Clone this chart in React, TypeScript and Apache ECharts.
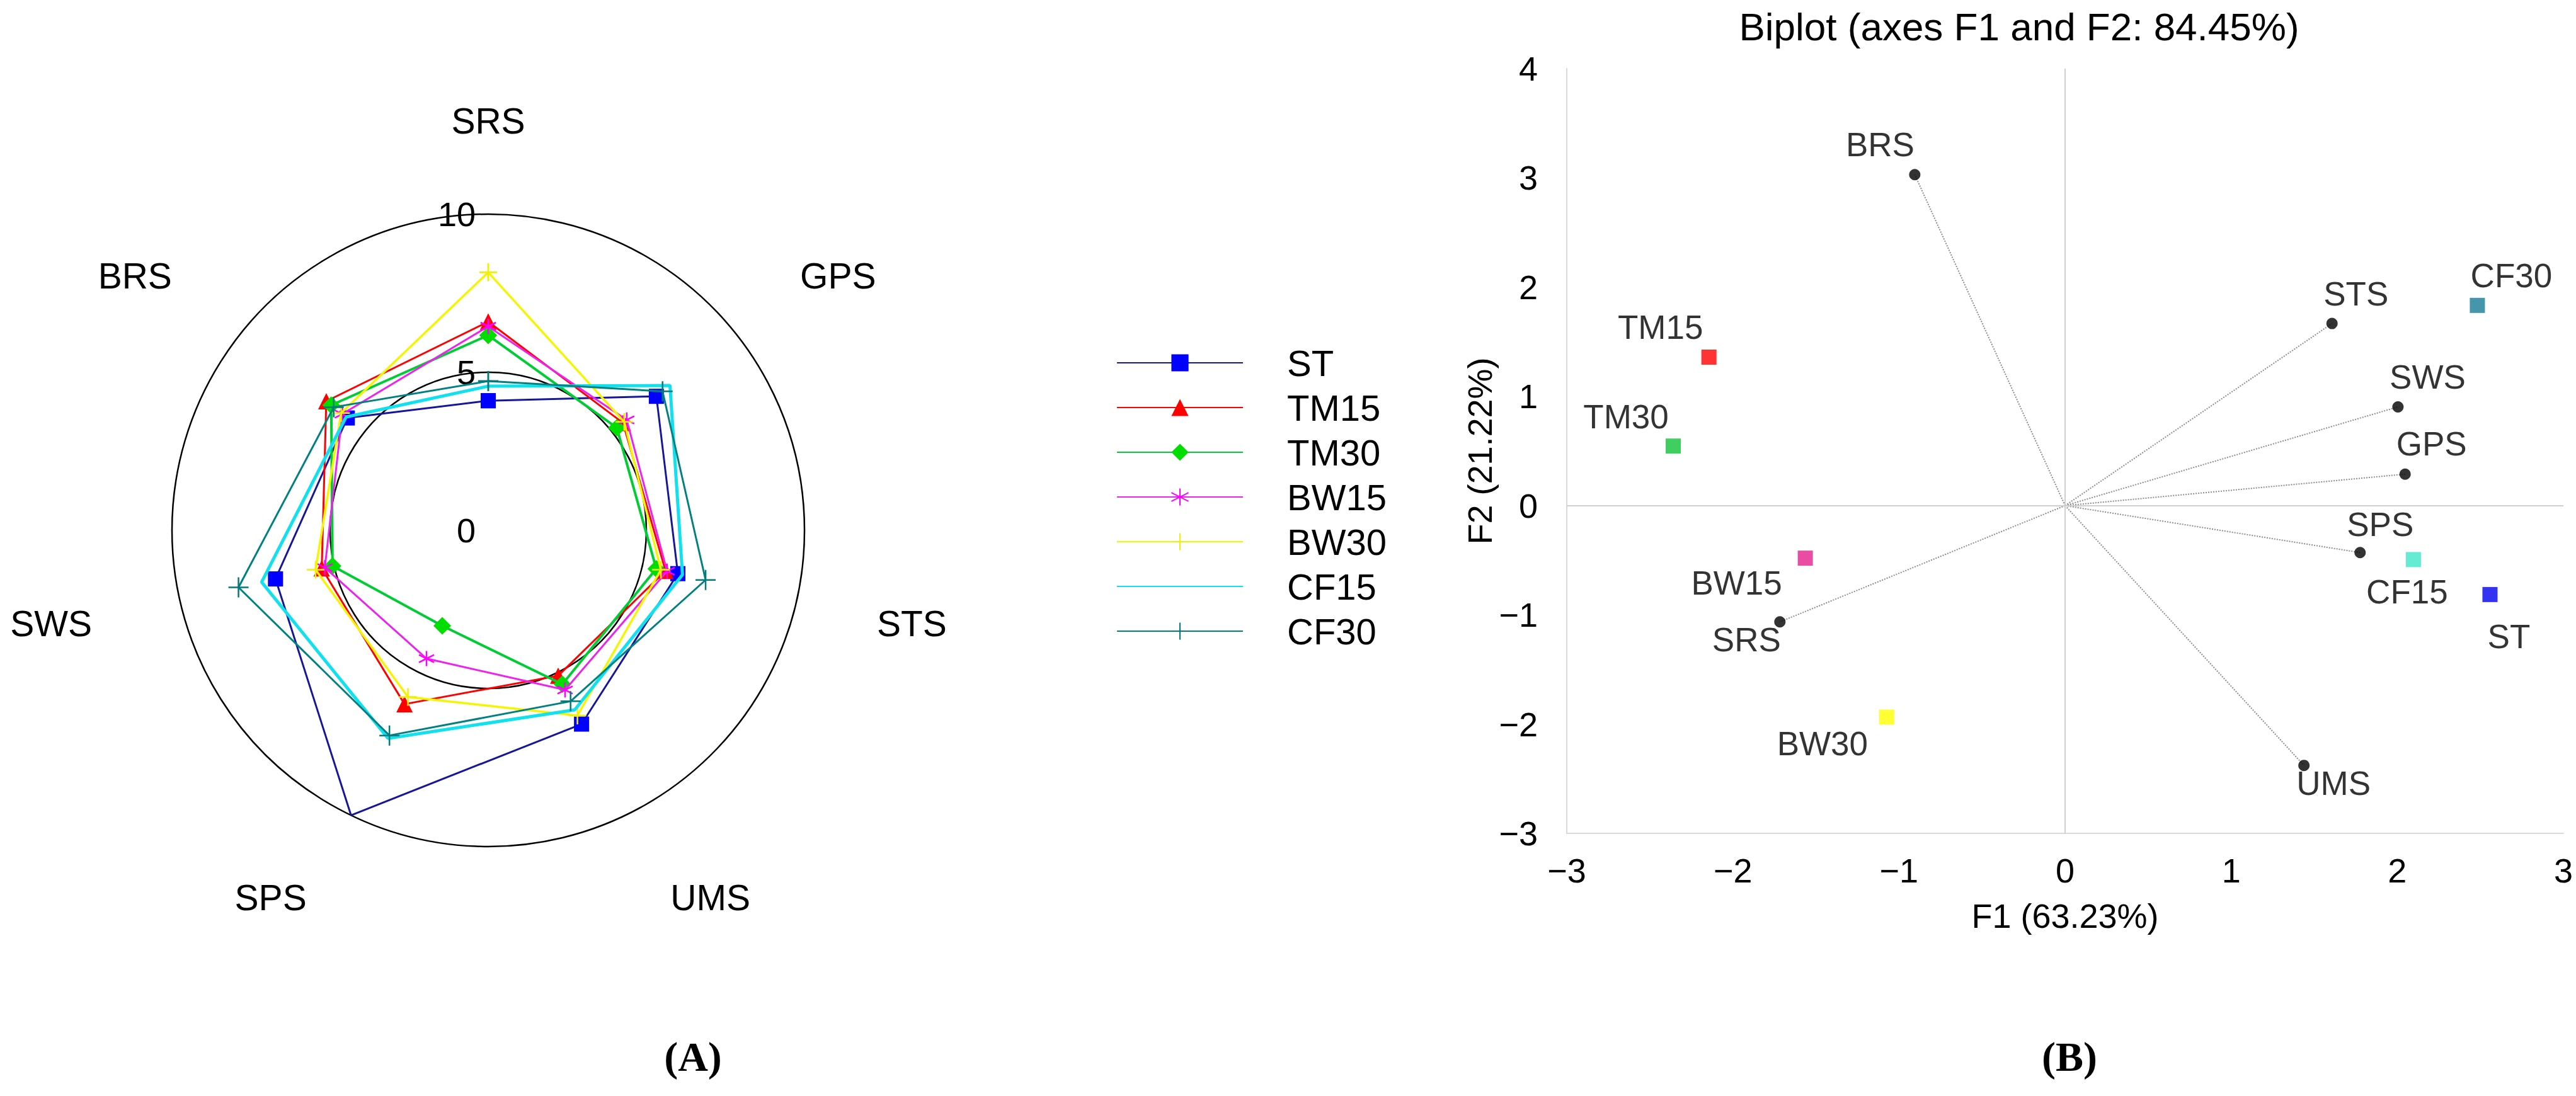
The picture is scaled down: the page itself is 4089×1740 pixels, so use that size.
import React, { useEffect, useRef } from 'react';
import * as echarts from 'echarts';

// ---------- Radar (A) data ----------
const RADAR_AXES = ['SRS', 'GPS', 'STS', 'UMS', 'SPS', 'SWS', 'BRS'];
const RADAR_MAX = 10;
const RADAR_STEP = 5;
const SERIES_NAMES = ['ST', 'TM15', 'TM30', 'BW15', 'BW30', 'CF15', 'CF30'];
const ST = [4.1, 6.8, 6.15, 6.8, 10.0, 6.9, 5.7];
const TM15 = [6.6, 5.45, 5.75, 5.1, 6.1, 5.4, 6.55];
const TM30 = [6.17, 5.2, 5.45, 5.4, 3.35, 5.05, 6.35];
const BW15 = [6.45, 5.6, 5.8, 5.6, 4.5, 5.3, 5.9];
const BW30 = [8.16, 5.5, 5.6, 6.5, 5.85, 5.6, 5.95];
const CF15 = [4.56, 7.35, 6.3, 6.3, 7.3, 7.35, 5.75];
const CF30 = [4.72, 7.05, 7.05, 6.0, 7.2, 8.1, 6.25];
const RADAR_VALUES = [ST, TM15, TM30, BW15, BW30, CF15, CF30];

// ---------- Biplot (B) data ----------
const VARIABLES = ['BRS', 'STS', 'SWS', 'GPS', 'SPS', 'UMS', 'SRS'];
const VAR_F1 = [-0.905, 1.607, 2.004, 2.047, 1.776, 1.438, -1.717];
const VAR_F2 = [3.03, 1.667, 0.904, 0.288, -0.43, -2.378, -1.064];
const OBSERVATIONS = ['ST', 'TM15', 'TM30', 'BW15', 'BW30', 'CF15', 'CF30'];
const OBS_F1 = [2.558, -2.144, -2.359, -1.564, -1.074, 2.097, 2.482];
const OBS_F2 = [-0.814, 1.359, 0.545, -0.481, -1.936, -0.494, 1.833];
const F1_RANGE = [-3, 3];
const F2_RANGE = [-3, 4];
const TITLE_B = 'Biplot (axes F1 and F2: 84.45%)';
const F1_NAME = 'F1 (63.23%)';
const F2_NAME = 'F2 (21.22%)';

// ---------- Styles ----------
const FONT = 'Liberation Sans, Arial, Helvetica, sans-serif';
const ASTERISK = 'path://M5,0L5,10M0.67,2.5L9.33,7.5M0.67,7.5L9.33,2.5';
const PLUS = 'path://M5,0L5,10M0,5L10,5';

const RADAR_STYLES: any[] = [
  { line: '#16169a', mark: '#0000ff', symbol: 'rect', size: 24, width: 3, stroke: 0 },
  { line: '#ff0000', mark: '#ff0000', symbol: 'triangle', size: 26, width: 3, stroke: 0 },
  { line: '#00cc33', mark: '#00dd00', symbol: 'diamond', size: 28, width: 4, stroke: 0 },
  { line: '#ee22ee', mark: '#ff00ff', symbol: ASTERISK, size: 24, width: 3, stroke: 2.5 },
  { line: '#f5f500', mark: '#f0f000', symbol: PLUS, size: 28, width: 3.5, stroke: 2.5 },
  { line: '#11e0ee', mark: '#11e0ee', symbol: 'none', size: 0, width: 5, stroke: 0 },
  { line: '#008080', mark: '#007a7a', symbol: PLUS, size: 32, width: 3, stroke: 2.5 },
];

// paddings [top, right, bottom, left] for the category labels around the radar
const RADAR_LABEL_PAD = [
  [0, 0, 40, 0],
  [0, 0, 0, 26],
  [28, 0, 0, 32],
  [25, 0, 0, 29],
  [25, 28, 0, 0],
  [28, 44, 0, 0],
  [0, 33, 0, 0],
];

const VAR_LABEL_OFFSET = [
  [-55, -48], [38, -47], [47, -47], [42, -48], [32, -45], [47, 28], [-53, 28],
];
const OBS_LABEL_OFFSET = [
  [30, 67], [-77, -48], [-75, -47], [-109, 39], [-102, 42], [-10, 51], [54, -47],
];
const OBS_COLORS = ['#0000ee', '#ff0000', '#11c23a', '#e2208c', '#ffff00', '#3ee6c8', '#167a96'];

const minus = (v: number) => String(v).replace('-', '\u2212');

function buildOption(): any {
  const rich: any = {};
  RADAR_AXES.forEach((n, i) => {
    rich['p' + i] = {
      fontSize: 57,
      fontFamily: FONT,
      color: '#000',
      lineHeight: 60,
      padding: RADAR_LABEL_PAD[i],
    };
  });

  const radarSeries = SERIES_NAMES.map((name, si) => {
    const st = RADAR_STYLES[si];
    const vals = RADAR_VALUES[si];
    const data = vals.concat([vals[0]]).map((v, i) => [v, i]);
    return {
      name,
      type: 'line',
      coordinateSystem: 'polar',
      polarIndex: 0,
      data,
      symbol: st.symbol,
      symbolSize: st.size,
      showSymbol: st.symbol !== 'none',
      lineStyle: { color: st.line, width: st.width },
      itemStyle: {
        color: st.mark,
        borderColor: st.mark,
        borderWidth: st.stroke,
      },
      emphasis: { disabled: true },
      silent: true,
      z: 3 + si,
    };
  });

  const vectorSeries = {
    name: 'Vectors',
    type: 'lines',
    coordinateSystem: 'cartesian2d',
    xAxisIndex: 0,
    yAxisIndex: 0,
    silent: true,
    data: VARIABLES.map((n, i) => ({ coords: [[0, 0], [VAR_F1[i], VAR_F2[i]]] })),
    lineStyle: { type: 'dotted', color: '#8c8c8c', width: 2, opacity: 1, curveness: 0 },
    z: 2,
  };

  const variableSeries = {
    name: 'Variables',
    type: 'scatter',
    xAxisIndex: 0,
    yAxisIndex: 0,
    symbol: 'circle',
    symbolSize: 18,
    itemStyle: { color: '#000' },
    silent: true,
    data: VARIABLES.map((n, i) => ({
      name: n,
      value: [VAR_F1[i], VAR_F2[i]],
      label: { offset: VAR_LABEL_OFFSET[i] },
    })),
    label: {
      show: true,
      position: 'inside',
      formatter: '{b}',
      color: '#000',
      fontSize: 53,
      fontFamily: FONT,
    },
    markLine: {
      silent: true,
      symbol: 'none',
      label: { show: false },
      lineStyle: { color: '#d0d0d0', width: 2, type: 'solid' },
      data: [{ xAxis: 0 }, { yAxis: 0 }],
    },
    z: 4,
  };

  const observationSeries = {
    name: 'Observations',
    type: 'scatter',
    xAxisIndex: 0,
    yAxisIndex: 0,
    symbol: 'rect',
    symbolSize: 24,
    silent: true,
    data: OBSERVATIONS.map((n, i) => ({
      name: n,
      value: [OBS_F1[i], OBS_F2[i]],
      itemStyle: { color: OBS_COLORS[i] },
      label: { offset: OBS_LABEL_OFFSET[i] },
    })),
    label: {
      show: true,
      position: 'inside',
      formatter: '{b}',
      color: '#000',
      fontSize: 53,
      fontFamily: FONT,
    },
    z: 5,
  };

  return {
    animation: false,
    backgroundColor: '#ffffff',
    textStyle: { fontFamily: FONT },
    title: [
      {
        text: TITLE_B,
        left: 3205,
        top: 11,
        padding: 0,
        textAlign: 'center',
        textStyle: { fontSize: 62, fontWeight: 'normal', color: '#000', fontFamily: FONT },
      },
      {
        text: '(A)',
        left: 1100,
        top: 1644,
        padding: 0,
        textAlign: 'center',
        textStyle: { fontSize: 66, fontWeight: 'bold', color: '#000', fontFamily: 'Liberation Serif, Times New Roman, serif' },
      },
      {
        text: '(B)',
        left: 3285,
        top: 1644,
        padding: 0,
        textAlign: 'center',
        textStyle: { fontSize: 66, fontWeight: 'bold', color: '#000', fontFamily: 'Liberation Serif, Times New Roman, serif' },
      },
    ],
    legend: {
      orient: 'vertical',
      left: 1772,
      top: 547,
      padding: 0,
      itemWidth: 200,
      itemHeight: 34,
      itemGap: 13,
      selectedMode: false,
      data: SERIES_NAMES.map((n, i) =>
        RADAR_STYLES[i].symbol === 'none' ? { name: n, itemStyle: { opacity: 0 } } : n
      ),
      textStyle: {
        fontSize: 58,
        color: '#000',
        fontFamily: FONT,
        padding: [0, 0, 0, 65],
      },
    },
    polar: { center: [775, 842], radius: 502 },
    angleAxis: {
      polarIndex: 0,
      type: 'value',
      min: 0,
      max: RADAR_AXES.length,
      interval: 1,
      startAngle: 90,
      clockwise: true,
      axisLine: { show: false },
      axisTick: { show: false },
      splitLine: { show: false },
      axisLabel: {
        show: true,
        margin: 98,
        formatter: (v: number) => {
          const i = Math.round(v);
          if (i < 0 || i >= RADAR_AXES.length) return '';
          return '{p' + i + '|' + RADAR_AXES[i] + '}';
        },
        rich,
      },
    },
    radiusAxis: {
      polarIndex: 0,
      type: 'value',
      min: 0,
      max: RADAR_MAX,
      interval: RADAR_STEP,
      axisLine: { show: false },
      axisTick: { show: false },
      splitLine: { show: true, lineStyle: { color: '#000', width: 2.5 } },
      axisLabel: { show: true, fontSize: 54, color: '#000', margin: 20, fontFamily: FONT },
    },
    grid: { left: 2487, right: 20, top: 109, bottom: 417, containLabel: false },
    xAxis: {
      type: 'value',
      gridIndex: 0,
      min: F1_RANGE[0],
      max: F1_RANGE[1],
      interval: 1,
      axisLine: { show: true, onZero: false, lineStyle: { color: '#d9d9d9', width: 2 } },
      axisTick: { show: false },
      splitLine: { show: false },
      axisLabel: { fontSize: 54, color: '#000', margin: 32, formatter: minus, fontFamily: FONT },
      name: F1_NAME,
      nameLocation: 'middle',
      nameGap: 104,
      nameTextStyle: { fontSize: 54, color: '#000', fontFamily: FONT },
    },
    yAxis: {
      type: 'value',
      gridIndex: 0,
      min: F2_RANGE[0],
      max: F2_RANGE[1],
      interval: 1,
      axisLine: { show: true, onZero: false, lineStyle: { color: '#d9d9d9', width: 2 } },
      axisTick: { show: false },
      splitLine: { show: false },
      axisLabel: { fontSize: 54, color: '#000', margin: 46, formatter: minus, fontFamily: FONT },
      name: F2_NAME,
      nameLocation: 'middle',
      nameGap: 90,
      nameRotate: 90,
      nameTextStyle: { fontSize: 54, color: '#000', fontFamily: FONT },
    },
    series: [...radarSeries, vectorSeries, variableSeries, observationSeries],
  };
}

export default function App() {
  const ref = useRef<HTMLDivElement>(null);
  useEffect(() => {
    if (!ref.current) return;
    const chart = echarts.init(ref.current, null, { renderer: 'svg' });
    chart.setOption(buildOption());
    return () => chart.dispose();
  }, []);
  return (
    <div
      ref={ref}
      style={{ position: 'absolute', left: 0, top: 0, width: 4089, height: 1740, background: '#fff' }}
    />
  );
}
